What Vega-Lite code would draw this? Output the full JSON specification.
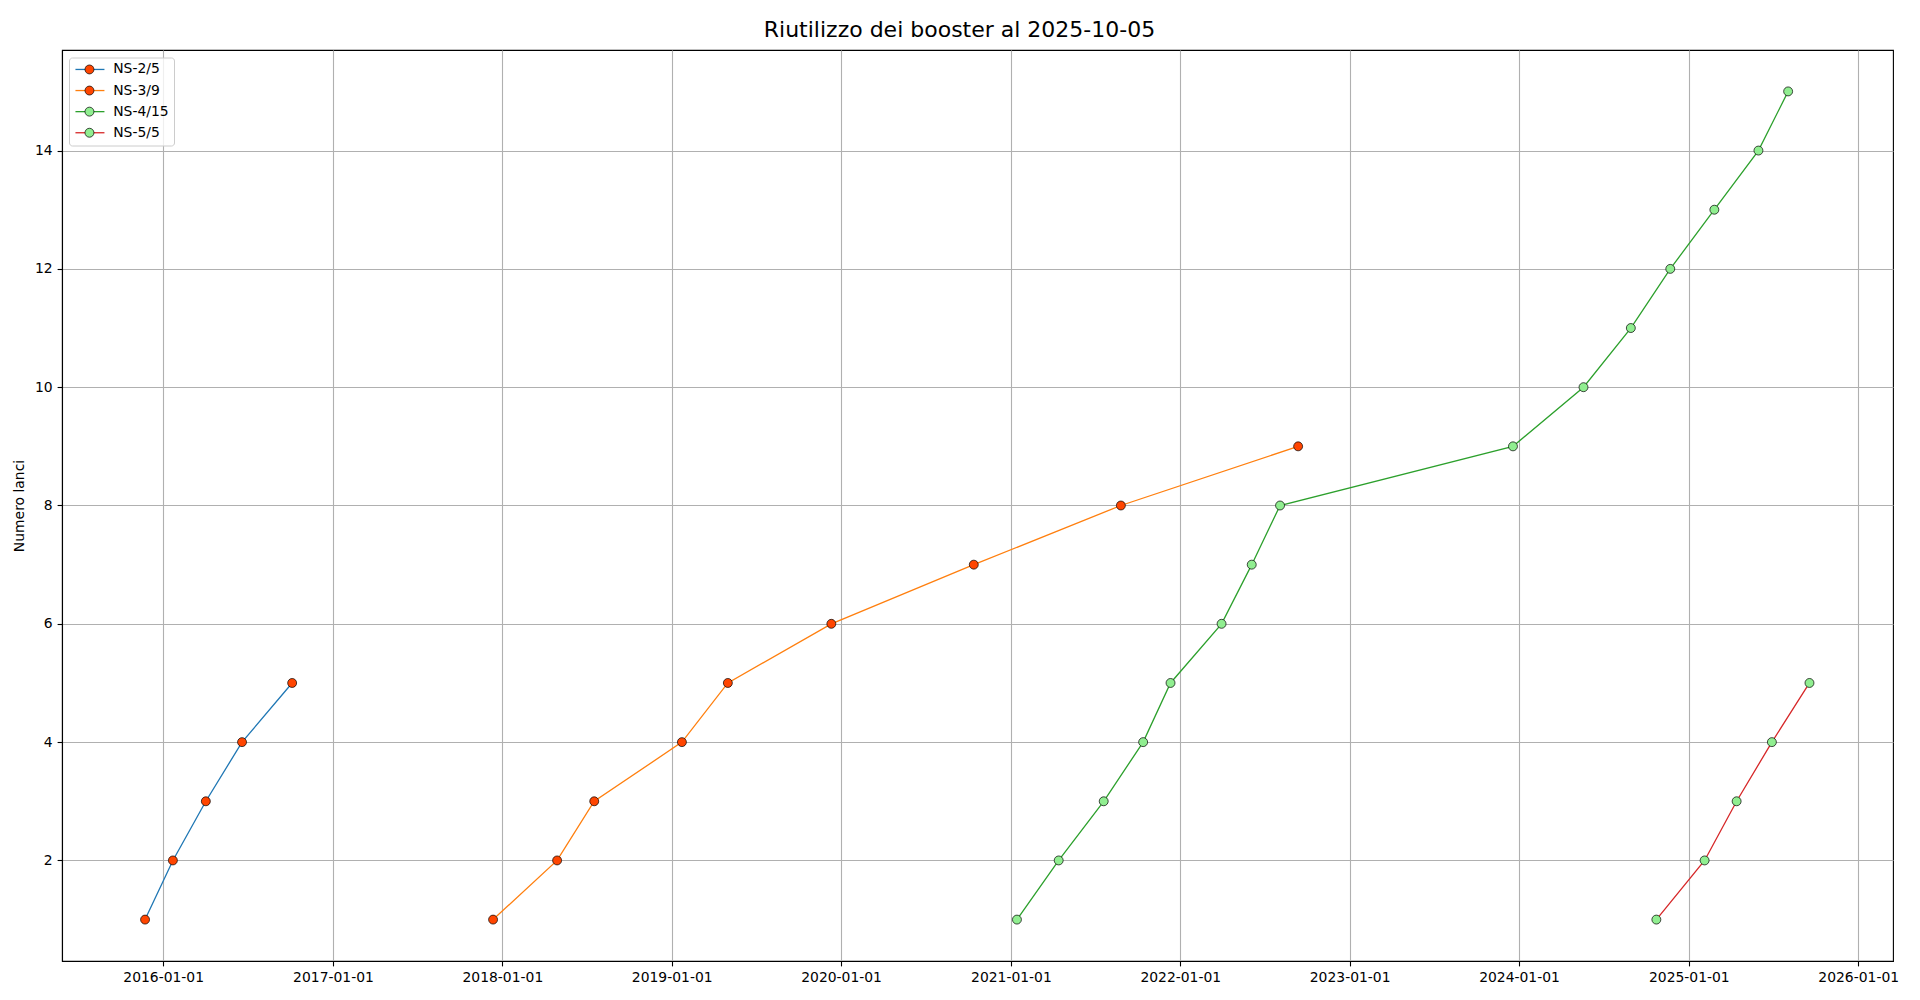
{
  "$schema": "https://vega.github.io/schema/vega-lite/v6.json",
  "width": 1831,
  "height": 911,
  "autosize": {"type": "none"},
  "padding": {"left": 62, "top": 50, "right": 27, "bottom": 39},
  "background": "white",
  "title": {
    "text": "Riutilizzo dei booster al 2025-10-05",
    "font": "DejaVu Sans",
    "fontSize": 22,
    "fontWeight": "normal",
    "color": "black",
    "anchor": "middle",
    "frame": "group",
    "dx": -18,
    "offset": 8
  },
  "config": {
    "view": {"stroke": "black", "strokeWidth": 1.1},
    "axis": {
      "labelFont": "DejaVu Sans",
      "labelFontSize": 13.9,
      "labelColor": "black",
      "titleFont": "DejaVu Sans",
      "titleFontSize": 13.9,
      "titleFontWeight": "normal",
      "titleColor": "black",
      "domainColor": "black",
      "domainWidth": 1.1,
      "tickColor": "black",
      "tickWidth": 1.1,
      "tickSize": 4.9,
      "labelPadding": 4.9,
      "gridColor": "#b0b0b0",
      "gridWidth": 1.1,
      "grid": true
    }
  },
  "data": {
    "values": [
      {"series": "NS-2/5", "date": "2015-11-23", "n": 1},
      {"series": "NS-2/5", "date": "2016-01-22", "n": 2},
      {"series": "NS-2/5", "date": "2016-04-02", "n": 3},
      {"series": "NS-2/5", "date": "2016-06-19", "n": 4},
      {"series": "NS-2/5", "date": "2016-10-05", "n": 5},
      {"series": "NS-3/9", "date": "2017-12-12", "n": 1},
      {"series": "NS-3/9", "date": "2018-04-29", "n": 2},
      {"series": "NS-3/9", "date": "2018-07-18", "n": 3},
      {"series": "NS-3/9", "date": "2019-01-23", "n": 4},
      {"series": "NS-3/9", "date": "2019-05-02", "n": 5},
      {"series": "NS-3/9", "date": "2019-12-11", "n": 6},
      {"series": "NS-3/9", "date": "2020-10-13", "n": 7},
      {"series": "NS-3/9", "date": "2021-08-26", "n": 8},
      {"series": "NS-3/9", "date": "2022-09-12", "n": 9},
      {"series": "NS-4/15", "date": "2021-01-14", "n": 1},
      {"series": "NS-4/15", "date": "2021-04-14", "n": 2},
      {"series": "NS-4/15", "date": "2021-07-20", "n": 3},
      {"series": "NS-4/15", "date": "2021-10-13", "n": 4},
      {"series": "NS-4/15", "date": "2021-12-11", "n": 5},
      {"series": "NS-4/15", "date": "2022-03-31", "n": 6},
      {"series": "NS-4/15", "date": "2022-06-04", "n": 7},
      {"series": "NS-4/15", "date": "2022-08-04", "n": 8},
      {"series": "NS-4/15", "date": "2023-12-19", "n": 9},
      {"series": "NS-4/15", "date": "2024-05-19", "n": 10},
      {"series": "NS-4/15", "date": "2024-08-29", "n": 11},
      {"series": "NS-4/15", "date": "2024-11-22", "n": 12},
      {"series": "NS-4/15", "date": "2025-02-25", "n": 13},
      {"series": "NS-4/15", "date": "2025-05-31", "n": 14},
      {"series": "NS-4/15", "date": "2025-08-03", "n": 15},
      {"series": "NS-5/5", "date": "2024-10-23", "n": 1},
      {"series": "NS-5/5", "date": "2025-02-04", "n": 2},
      {"series": "NS-5/5", "date": "2025-04-14", "n": 3},
      {"series": "NS-5/5", "date": "2025-06-29", "n": 4},
      {"series": "NS-5/5", "date": "2025-09-18", "n": 5}
    ]
  },
  "encoding": {
    "x": {
      "field": "date",
      "type": "temporal",
      "title": null,
      "scale": {"domain": [{"year": 2015, "month": 5, "date": 28}, {"year": 2026, "month": 3, "date": 17}], "nice": false},
      "axis": {
        "format": "%Y-%m-%d",
        "labelAngle": 0,
        "values": [
          {"year": 2016, "month": 1, "date": 1},
          {"year": 2017, "month": 1, "date": 1},
          {"year": 2018, "month": 1, "date": 1},
          {"year": 2019, "month": 1, "date": 1},
          {"year": 2020, "month": 1, "date": 1},
          {"year": 2021, "month": 1, "date": 1},
          {"year": 2022, "month": 1, "date": 1},
          {"year": 2023, "month": 1, "date": 1},
          {"year": 2024, "month": 1, "date": 1},
          {"year": 2025, "month": 1, "date": 1},
          {"year": 2026, "month": 1, "date": 1}
        ]
      }
    },
    "y": {
      "field": "n",
      "type": "quantitative",
      "title": "Numero lanci",
      "scale": {"domain": [0.3, 15.7], "nice": false, "zero": false},
      "axis": {"values": [2, 4, 6, 8, 10, 12, 14], "titlePadding": 8}
    }
  },
  "layer": [
    {
      "mark": {"type": "line", "strokeWidth": 1.3},
      "encoding": {
        "color": {
          "field": "series",
          "type": "nominal",
          "scale": {"domain": ["NS-2/5", "NS-3/9", "NS-4/15", "NS-5/5"], "range": ["#1f77b4", "#ff7f0e", "#2ca02c", "#d62728"]},
          "legend": {
            "title": null,
            "orient": "none",
            "legendX": 7,
            "legendY": 7.5,
            "symbolType": "M-1.1,0H4.7",
            "symbolSize": 100,
            "symbolStrokeWidth": 1.3,
            "symbolFillColor": "transparent",
            "labelFont": "DejaVu Sans",
            "labelFontSize": 13.9,
            "labelColor": "black",
            "labelOffset": 25.3,
            "padding": 5,
            "rowPadding": 6.1,
            "fillColor": "rgba(255,255,255,0.8)",
            "strokeColor": "#cccccc",
            "cornerRadius": 3
          }
        }
      }
    },
    {
      "mark": {"type": "point", "filled": true, "size": 80, "stroke": "black", "strokeWidth": 0.7, "opacity": 1},
      "encoding": {
        "fill": {
          "field": "series",
          "type": "nominal",
          "scale": {"domain": ["NS-2/5", "NS-3/9", "NS-4/15", "NS-5/5", "_"], "range": ["#ff4500", "#ff4500", "#90ee90", "#90ee90", "#ffffff"]},
          "legend": {
            "title": null,
            "values": ["NS-2/5", "NS-3/9", "NS-4/15", "NS-5/5"],
            "orient": "none",
            "legendX": 15.5,
            "legendY": 7.5,
            "symbolType": "circle",
            "symbolSize": 80,
            "symbolStrokeColor": "black",
            "symbolStrokeWidth": 0.7,
            "symbolOpacity": 1,
            "labelFont": "DejaVu Sans",
            "labelFontSize": 13.9,
            "labelExpr": "''",
            "labelOffset": 11.3,
            "padding": 5,
            "rowPadding": 6.1
          }
        }
      }
    }
  ]
}
